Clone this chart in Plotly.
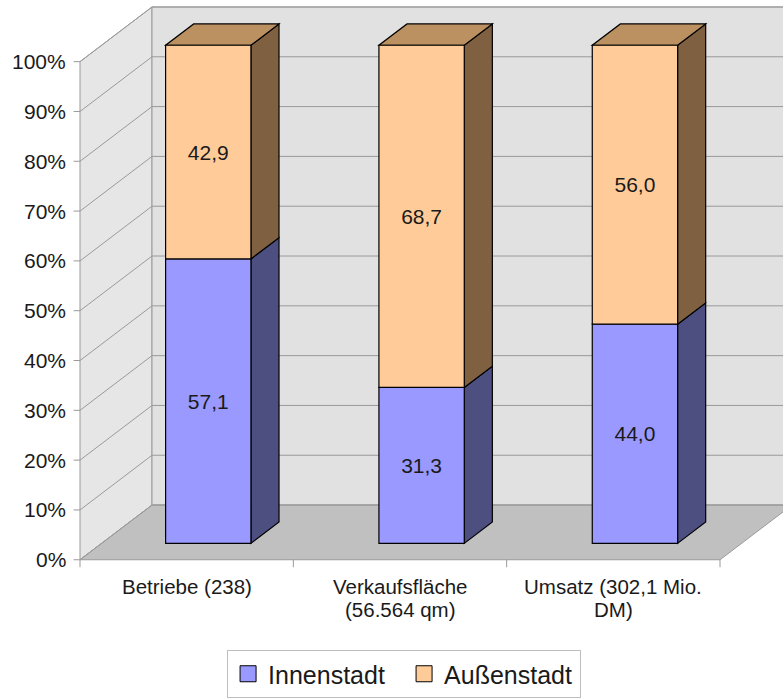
import plotly.graph_objects as go

# --- data -----------------------------------------------------------------
categories = [
    ["Betriebe (238)"],
    ["Verkaufsfläche", "(56.564 qm)"],
    ["Umsatz (302,1 Mio.", "DM)"],
]
innenstadt = [57.1, 31.3, 44.0]
aussenstadt = [42.9, 68.7, 56.0]
series_names = ["Innenstadt", "Außenstadt"]
y_ticks = [0, 10, 20, 30, 40, 50, 60, 70, 80, 90, 100]

# --- styling / pseudo-3D geometry ---------------------------------------------
FONT = "Liberation Sans, Arial, sans-serif"
FRONT_COLORS = ["#9999FF", "#FFCC99"]
SIDE_COLORS = ["#4D4F80", "#7F6141"]
TOP_COLOR = "#BC9162"
WALL_LEFT = "#E6E6E6"
WALL_BACK = "#E1E1E1"
FLOOR = "#C0C0C0"
EDGE = "#9A9A9A"

DEPTH_X = 0.3375   # depth shift in category units
DEPTH_Y = 10.98    # depth shift in percent units
BAR_FRONT = 0.30   # depth fraction of the bar front face
BAR_BACK = 0.69    # depth fraction of the bar back face
BAR_WIDTH = 0.4
N = len(categories)


def proj(c, v, d):
    """Project (category position, value, depth) onto the 2D plane."""
    return c + d * DEPTH_X, v + d * DEPTH_Y


def path(points):
    return "M " + " L ".join(f"{x},{y}" for x, y in points) + " Z"


fig = go.Figure()
shapes = []

# walls and floor
shapes.append(dict(type="path", path=path([proj(0, 0, 0), proj(0, 100, 0), proj(0, 100, 1), proj(0, 0, 1)]),
                   fillcolor=WALL_LEFT, line=dict(color=EDGE, width=1)))
shapes.append(dict(type="path", path=path([proj(0, 0, 1), proj(0, 100, 1), proj(N, 100, 1), proj(N, 0, 1)]),
                   fillcolor=WALL_BACK, line=dict(color=EDGE, width=1)))
shapes.append(dict(type="path", path=path([proj(0, 0, 0), proj(N, 0, 0), proj(N, 0, 1), proj(0, 0, 1)]),
                   fillcolor=FLOOR, line=dict(color=EDGE, width=1)))

# gridlines on the walls
for v in y_ticks:
    x0, y0 = proj(0, v, 0)
    x1, y1 = proj(0, v, 1)
    x2, y2 = proj(N, v, 1)
    shapes.append(dict(type="line", x0=x0, y0=y0, x1=x1, y1=y1, line=dict(color=EDGE, width=1)))
    shapes.append(dict(type="line", x0=x1, y0=y1, x1=x2, y1=y2, line=dict(color=EDGE, width=1)))
    # tick mark on the value axis
    shapes.append(dict(type="line", x0=-0.03, y0=v, x1=0, y1=v, line=dict(color=EDGE, width=1)))

# category tick marks below the floor
for i in range(N + 1):
    shapes.append(dict(type="line", x0=i, y0=0, x1=i, y1=-1.5, line=dict(color=EDGE, width=1)))

# side and top faces of the stacked columns
for i in range(N):
    c_right = i + 0.5 + BAR_WIDTH / 2
    c_left = i + 0.5 - BAR_WIDTH / 2
    bounds = [0, innenstadt[i], innenstadt[i] + aussenstadt[i]]
    for s in range(2):
        lo, hi = bounds[s], bounds[s + 1]
        pts = [proj(c_right, lo, BAR_FRONT), proj(c_right, lo, BAR_BACK),
               proj(c_right, hi, BAR_BACK), proj(c_right, hi, BAR_FRONT)]
        shapes.append(dict(type="path", path=path(pts), fillcolor=SIDE_COLORS[s],
                           line=dict(color="#000000", width=1.2)))
    top = bounds[-1]
    pts = [proj(c_left, top, BAR_FRONT), proj(c_right, top, BAR_FRONT),
           proj(c_right, top, BAR_BACK), proj(c_left, top, BAR_BACK)]
    shapes.append(dict(type="path", path=path(pts), fillcolor=TOP_COLOR,
                       line=dict(color="#000000", width=1.2)))

for s in shapes:
    s.update(xref="x", yref="y", layer="below")

# front faces of the columns
front_x = [proj(i + 0.5, 0, BAR_FRONT)[0] for i in range(N)]
base0 = proj(0, 0, BAR_FRONT)[1]
for s, values in enumerate([innenstadt, aussenstadt]):
    bases = [base0 + (innenstadt[i] if s == 1 else 0) for i in range(N)]
    fig.add_trace(go.Bar(
        x=front_x, y=values, base=bases, width=BAR_WIDTH,
        marker=dict(color=FRONT_COLORS[s], line=dict(color="#000000", width=1.2)),
        texttemplate="%{y:.1f}", textposition="inside", insidetextanchor="middle",
        textfont=dict(family=FONT, size=21, color="#1A1A1A"),
        showlegend=False, hoverinfo="skip",
    ))

# legend entries
for s in range(2):
    fig.add_trace(go.Scatter(
        x=[None], y=[None], mode="markers", name=series_names[s],
        marker=dict(symbol="square", size=16, color=FRONT_COLORS[s],
                    line=dict(color="#000000", width=1)),
    ))

annotations = []
for v in y_ticks:
    annotations.append(dict(x=-0.055, y=v, text=f"{v}%", showarrow=False,
                            xanchor="right", yanchor="middle",
                            font=dict(family=FONT, size=21, color="#1A1A1A")))
line_y = [-5.39, -9.98]
for i, lines in enumerate(categories):
    for k, t in enumerate(lines):
        annotations.append(dict(x=i + 0.5, y=line_y[k], text=t, showarrow=False,
                                xanchor="center", yanchor="middle",
                                font=dict(family=FONT, size=20.5, color="#1A1A1A")))

fig.update_layout(
    width=783, height=698, autosize=False,
    margin=dict(l=0, r=0, t=0, b=0),
    paper_bgcolor="white", plot_bgcolor="white",
    barmode="overlay", separators=",.",
    shapes=shapes, annotations=annotations,
    xaxis=dict(range=[-0.375, 3.2953], visible=False, fixedrange=True),
    yaxis=dict(range=[-26.95, 112.38], visible=False, fixedrange=True),
    legend=dict(orientation="h", x=0.29, xanchor="left", y=0.063, yanchor="top",
                entrywidth=131, entrywidthmode="pixels",
                bordercolor="#BDBDBD", borderwidth=1, bgcolor="white",
                font=dict(family=FONT, size=25, color="#1A1A1A")),
    showlegend=True,
)

fig.write_html("out.html")
